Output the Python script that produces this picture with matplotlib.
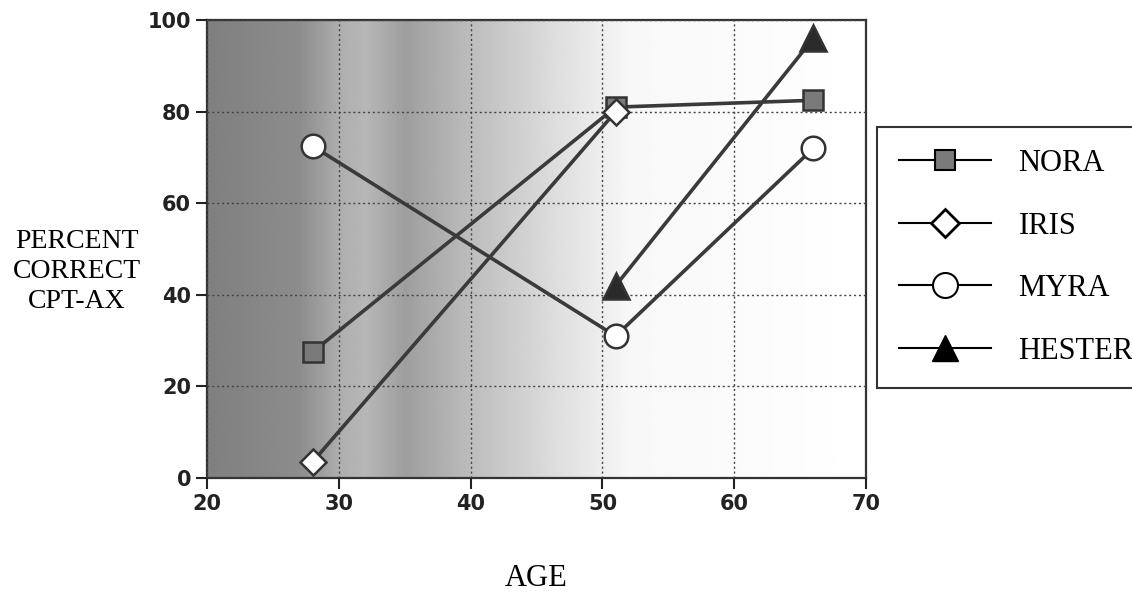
import numpy as np
import matplotlib.pyplot as plt
from matplotlib.lines import Line2D

# datos
edades_nora = [28, 51, 66]
nora = [27.5, 81, 82.5]
edades_iris = [28, 51]
iris = [3.5, 80]
edades_myra = [28, 51, 66]
myra = [72.5, 31, 72]
edades_hester = [51, 66]
hester = [42, 96]

x_ticks = [20, 30, 40, 50, 60, 70]
y_ticks = [0, 20, 40, 60, 80, 100]

serif = ['Liberation Serif', 'DejaVu Serif']

fig = plt.figure(figsize=(11.32, 5.93), dpi=100)
ax = fig.add_axes([0.183, 0.194, 0.582, 0.772])

# fondo degradado gris -> blanco
xs = np.linspace(20, 70, 500)
tonos = np.interp(xs, [20, 27, 30, 32, 35, 40, 46, 52, 70],
                  [0.50, 0.55, 0.68, 0.72, 0.62, 0.74, 0.86, 0.97, 1.0])
fondo = np.tile(tonos, (10, 1))
ax.imshow(fondo, cmap='gray', vmin=0, vmax=1, aspect='auto',
          extent=[20, 70, 0, 100], zorder=0)

linea = '#3a3a3a'
estilo = dict(color=linea, lw=2.6, markeredgecolor='#333333', markeredgewidth=1.8, zorder=3)
ax.plot(edades_nora, nora, marker='s', markersize=14, markerfacecolor='#7a7a7a', **estilo)
ax.plot(edades_iris, iris, marker='D', markersize=13, markerfacecolor='white', **estilo)
ax.plot(edades_myra, myra, marker='o', markersize=17, markerfacecolor='white', **estilo)
ax.plot(edades_hester, hester, marker='^', markersize=19, markerfacecolor='#2a2a2a', **estilo)

ax.set_xlim(20, 70)
ax.set_ylim(0, 100)
ax.set_xticks(x_ticks)
ax.set_yticks(y_ticks)
ax.tick_params(direction='out', length=8, width=1.5, labelsize=15, colors='#222222')
for lab in ax.get_xticklabels() + ax.get_yticklabels():
    lab.set_fontweight('bold')
ax.grid(True, color='#444444', linestyle=(0, (1.5, 2)), linewidth=1.0, zorder=1)
ax.set_axisbelow(False)
for s in ax.spines.values():
    s.set_color('#333333')
    s.set_linewidth(1.6)

fig.text(0.068, 0.542, 'PERCENT\nCORRECT\nCPT-AX', ha='center', va='center',
         family=serif, fontsize=20, linespacing=1.28)
fig.text(0.474, 0.025, 'AGE', ha='center', va='center', family=serif, fontsize=22)

# leyenda
handles = [
    Line2D([], [], color='black', lw=1.5, marker='s', markersize=14,
           markerfacecolor='#7a7a7a', markeredgecolor='black', markeredgewidth=1.5),
    Line2D([], [], color='black', lw=1.5, marker='D', markersize=14,
           markerfacecolor='white', markeredgecolor='black', markeredgewidth=2),
    Line2D([], [], color='black', lw=1.5, marker='o', markersize=18,
           markerfacecolor='white', markeredgecolor='black', markeredgewidth=1.5),
    Line2D([], [], color='black', lw=1.5, marker='^', markersize=19,
           markerfacecolor='black', markeredgecolor='black'),
]
leg = fig.legend(handles, ['NORA', 'IRIS', 'MYRA', 'HESTER'], loc='upper left',
                 bbox_to_anchor=(0.775, 0.786), frameon=True, fancybox=False,
                 edgecolor='black', prop={'family': serif, 'size': 22},
                 handlelength=3.0, labelspacing=1.1, borderpad=0.72,
                 handletextpad=0.9, borderaxespad=0)
leg.get_frame().set_linewidth(1.5)

plt.savefig('out.png', dpi=100, facecolor='white')
